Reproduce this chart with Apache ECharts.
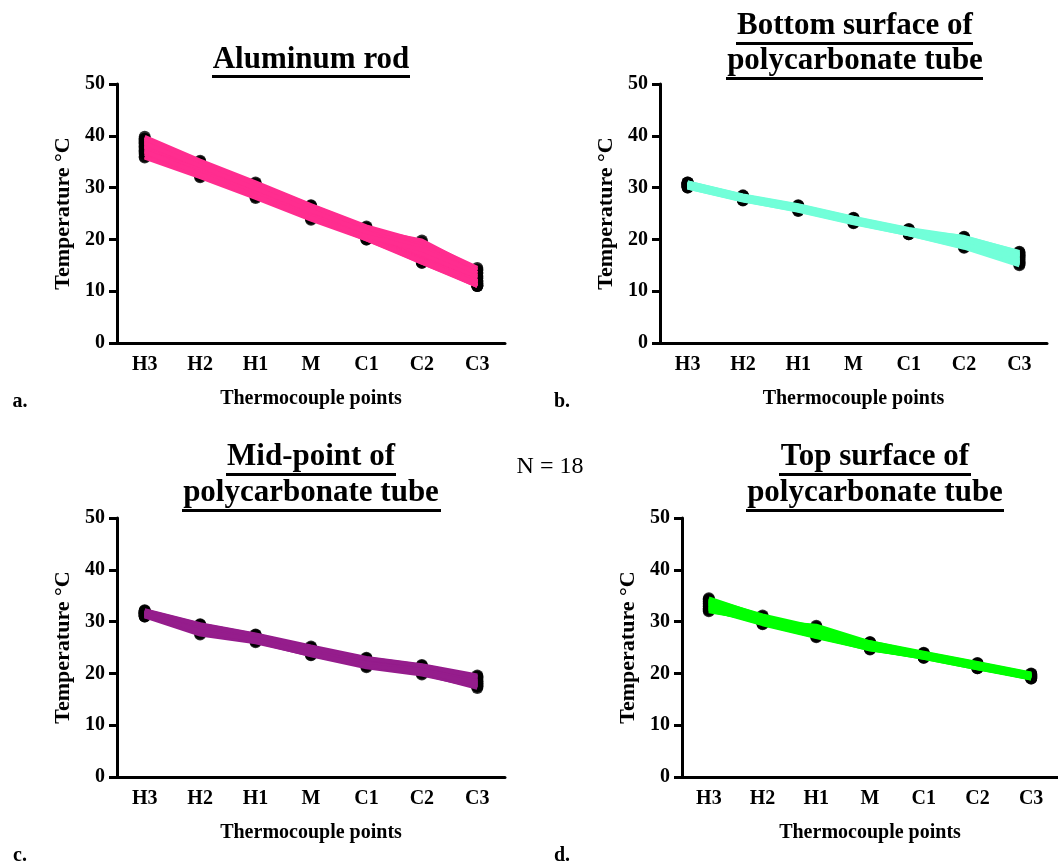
<!DOCTYPE html>
<html>
<head>
<meta charset="utf-8">
<title>Thermocouple temperature profiles</title>
<script src="https://cdn.jsdelivr.net/npm/echarts@6/dist/echarts.min.js"></script>
<style>
  html, body { margin: 0; padding: 0; background: #fff; }
  #chart { width: 1058px; height: 863px; }
</style>
</head>
<body>
<div id="chart"></div>
<script>
// thermocouple positions along the rod / tube
const points = ['H3', 'H2', 'H1', 'M', 'C1', 'C2', 'C3']
const yTicks = [0, 10, 20, 30, 40, 50]

// a. aluminum rod, 18 runs
const aluminum = [
  [39.5, 35.0, 30.8, 26.5, 22.3, 18.0, 13.0],
  [39.2, 34.6, 30.5, 26.2, 22.0, 17.5, 12.5],
  [39.0, 34.3, 30.2, 26.0, 21.7, 17.0, 12.0],
  [38.8, 34.0, 30.0, 25.8, 21.5, 16.8, 11.8],
  [38.5, 33.8, 29.7, 25.5, 21.2, 16.5, 11.5],
  [38.2, 33.5, 29.4, 25.2, 21.0, 16.2, 11.2],
  [38.0, 33.2, 29.2, 25.0, 20.8, 16.0, 11.0],
  [37.8, 33.0, 29.0, 24.8, 20.5, 15.8, 11.0],
  [37.5, 32.8, 28.7, 24.5, 20.3, 15.5, 11.2],
  [37.2, 32.5, 28.5, 24.3, 20.0, 15.5, 11.0],
  [39.8, 35.2, 31.0, 26.6, 22.5, 19.5, 14.5],
  [39.4, 34.8, 30.6, 26.3, 22.2, 19.0, 14.0],
  [36.8, 33.5, 29.5, 25.0, 21.8, 19.8, 14.2],
  [36.5, 33.0, 29.0, 24.5, 21.5, 18.5, 13.5],
  [36.0, 32.2, 28.2, 24.0, 20.2, 16.0, 12.0],
  [35.8, 32.0, 28.0, 23.8, 20.0, 15.8, 11.5],
  [38.6, 34.2, 29.8, 25.6, 21.4, 17.2, 12.8],
  [37.0, 32.6, 28.4, 24.2, 20.6, 18.0, 13.5]
]

// b. bottom surface of polycarbonate tube
const bottomSurface = [
  [31.0, 28.5, 26.6, 24.2, 22.0, 20.4, 17.6],
  [30.9, 28.4, 26.5, 24.1, 21.9, 20.2, 17.3],
  [30.8, 28.3, 26.4, 24.0, 21.8, 20.0, 17.0],
  [30.7, 28.2, 26.3, 23.9, 21.7, 19.8, 16.8],
  [30.6, 28.1, 26.2, 23.8, 21.6, 19.6, 16.5],
  [30.5, 28.0, 26.1, 23.7, 21.5, 19.5, 16.3],
  [30.4, 27.9, 26.0, 23.6, 21.4, 19.3, 16.0],
  [30.3, 27.8, 25.9, 23.5, 21.3, 19.1, 15.8],
  [30.2, 27.7, 25.8, 23.4, 21.2, 18.9, 15.6],
  [30.1, 27.6, 25.7, 23.3, 21.1, 18.7, 15.4],
  [30.0, 27.5, 25.6, 23.2, 21.0, 18.5, 15.2],
  [30.0, 27.6, 25.5, 23.1, 21.0, 18.4, 15.0],
  [31.0, 28.4, 26.3, 23.8, 21.6, 20.5, 17.5],
  [30.8, 28.0, 26.0, 23.5, 21.3, 20.0, 17.2],
  [30.5, 27.8, 25.8, 23.3, 21.1, 19.6, 16.9],
  [30.2, 28.2, 26.2, 23.9, 21.8, 19.2, 15.5],
  [30.6, 27.9, 26.4, 23.6, 21.5, 18.8, 16.1],
  [30.9, 28.3, 25.9, 24.0, 21.2, 19.0, 16.6]
]

// c. mid-point of polycarbonate tube
const midPoint = [
  [32.2, 29.5, 27.5, 25.2, 23.0, 21.6, 19.6],
  [32.0, 29.3, 27.3, 25.0, 22.8, 21.4, 19.4],
  [31.9, 29.2, 27.2, 24.9, 22.7, 21.3, 19.2],
  [31.8, 29.1, 27.1, 24.8, 22.6, 21.2, 19.0],
  [31.7, 29.0, 27.0, 24.7, 22.5, 21.1, 18.8],
  [31.6, 28.9, 26.9, 24.6, 22.4, 21.0, 18.6],
  [31.5, 28.8, 26.8, 24.5, 22.3, 20.9, 18.4],
  [31.4, 28.7, 26.7, 24.4, 22.2, 20.8, 18.2],
  [31.3, 28.6, 26.6, 24.3, 22.1, 20.7, 18.0],
  [31.2, 28.5, 26.5, 24.2, 22.0, 20.6, 17.8],
  [31.1, 28.4, 26.4, 24.1, 21.9, 20.5, 17.6],
  [31.0, 28.3, 26.3, 24.0, 21.8, 20.4, 17.4],
  [31.0, 27.5, 26.0, 23.6, 21.4, 20.0, 17.2],
  [31.2, 27.7, 26.2, 23.5, 21.2, 19.8, 17.5],
  [31.5, 28.0, 26.6, 24.0, 21.6, 20.2, 17.8],
  [31.8, 29.0, 26.9, 24.4, 21.9, 20.6, 18.5],
  [32.1, 29.4, 27.4, 24.9, 22.9, 21.5, 19.3],
  [31.6, 28.2, 26.5, 23.8, 21.5, 20.3, 18.1]
]

// d. top surface of polycarbonate tube
const topSurface = [
  [34.5, 31.0, 28.5, 26.0, 24.0, 22.0, 20.0],
  [34.3, 30.8, 28.2, 25.8, 23.9, 21.9, 19.9],
  [34.0, 30.6, 28.0, 25.6, 23.8, 21.8, 19.8],
  [33.8, 30.4, 27.8, 25.4, 23.7, 21.7, 19.7],
  [33.6, 30.2, 27.6, 25.3, 23.6, 21.6, 19.6],
  [33.4, 30.0, 27.5, 25.2, 23.5, 21.5, 19.5],
  [33.2, 29.9, 27.4, 25.1, 23.4, 21.4, 19.4],
  [33.0, 29.8, 27.3, 25.0, 23.3, 21.3, 19.3],
  [32.8, 29.7, 27.2, 24.9, 23.2, 21.2, 19.2],
  [32.6, 29.6, 27.1, 24.8, 23.1, 21.1, 19.1],
  [32.4, 29.5, 27.0, 24.7, 23.0, 21.0, 19.0],
  [32.2, 30.0, 29.2, 26.0, 23.8, 21.8, 19.6],
  [32.0, 30.3, 29.0, 25.7, 23.6, 21.6, 19.3],
  [34.2, 31.2, 28.8, 25.5, 23.4, 21.5, 19.8],
  [33.5, 30.5, 27.3, 24.6, 23.2, 21.2, 19.0],
  [32.5, 29.8, 28.6, 25.9, 23.7, 21.7, 19.5],
  [33.9, 30.9, 27.7, 24.8, 23.0, 21.0, 19.2],
  [32.9, 30.1, 27.9, 25.4, 23.5, 21.4, 19.4]
]

const FONT = '"Liberation Serif", "Times New Roman", serif'

const panels = [
  { runs: aluminum, color: '#ff2d8f', grid: { left: 117, top: 84, width: 388, height: 259 } },
  { runs: bottomSurface, color: '#72ffd9', grid: { left: 660, top: 84, width: 387, height: 259 } },
  { runs: midPoint, color: '#951d8c', grid: { left: 117, top: 518, width: 388, height: 259 } },
  { runs: topSurface, color: '#00ff00', grid: { left: 682, top: 518, width: 389, height: 259 } }
]

const chart = echarts.init(document.getElementById('chart'))

const grids = []
const xAxes = []
const yAxes = []
const series = []

panels.forEach((p, k) => {
  grids.push(Object.assign({ containLabel: false }, p.grid))
  xAxes.push({
    type: 'category',
    gridIndex: k,
    data: points,
    boundaryGap: true,
    name: 'Thermocouple points',
    nameLocation: 'middle',
    nameGap: 46,
    nameTextStyle: { fontFamily: FONT, fontWeight: 'bold', fontSize: 20, color: '#000' },
    axisLine: { lineStyle: { color: '#000', width: 3 } },
    axisTick: { alignWithLabel: true, length: 8, lineStyle: { color: '#000', width: 3 } },
    axisLabel: { fontFamily: FONT, fontWeight: 'bold', fontSize: 20, color: '#000', margin: 12 },
    splitLine: { show: false }
  })
  yAxes.push({
    type: 'value',
    gridIndex: k,
    min: yTicks[0],
    max: yTicks[yTicks.length - 1],
    interval: 10,
    name: 'Temperature °C',
    nameLocation: 'middle',
    nameGap: 43,
    nameTextStyle: { fontFamily: FONT, fontWeight: 'bold', fontSize: 22, color: '#000' },
    axisLine: { show: true, lineStyle: { color: '#000', width: 3 } },
    axisTick: { show: true, length: 8, lineStyle: { color: '#000', width: 3 } },
    axisLabel: { fontFamily: FONT, fontWeight: 'bold', fontSize: 20, color: '#000', margin: 12 },
    splitLine: { show: false }
  })
  // black markers under the lines
  series.push({
    type: 'scatter',
    xAxisIndex: k,
    yAxisIndex: k,
    symbol: 'circle',
    symbolSize: 12,
    itemStyle: { color: '#000' },
    z: 2,
    data: p.runs.flatMap(run => run.map((v, i) => [i, v]))
  })
  p.runs.forEach((run, j) => {
    series.push({
      type: 'line',
      name: 'run ' + (j + 1),
      xAxisIndex: k,
      yAxisIndex: k,
      showSymbol: false,
      symbol: 'none',
      z: 3,
      lineStyle: { color: p.color, width: 4 },
      data: run
    })
  })
})

// titles, underlines, panel letters
const txt = (text, x, y, size, bold) => ({
  type: 'text',
  x: x,
  y: y,
  style: {
    text: text,
    fontFamily: FONT,
    fontWeight: bold ? 'bold' : 'normal',
    fontSize: size,
    fill: '#000',
    align: 'center',
    verticalAlign: 'middle'
  }
})
const uline = (x1, x2, y) => ({
  type: 'rect',
  shape: { x: x1, y: y, width: x2 - x1, height: 3 },
  style: { fill: '#000' }
})

const graphics = [
  txt('Aluminum rod', 311, 60, 31, true), uline(212, 410, 75),
  txt('Bottom surface of', 855, 26, 31, true), uline(736, 973, 42),
  txt('polycarbonate tube', 855, 61, 31, true), uline(726, 983, 77),
  txt('Mid-point of', 311, 457, 31, true), uline(226, 396, 473),
  txt('polycarbonate tube', 311, 493, 31, true), uline(182, 441, 509),
  txt('Top surface of', 875, 457, 31, true), uline(779, 971, 473),
  txt('polycarbonate tube', 875, 493, 31, true), uline(746, 1004, 509),
  txt('N = 18', 550, 467, 24, false),
  txt('a.', 20, 402, 20, true),
  txt('b.', 562, 402, 20, true),
  txt('c.', 20, 856, 20, true),
  txt('d.', 562, 856, 20, true)
]

chart.setOption({
  animation: false,
  backgroundColor: '#fff',
  grid: grids,
  xAxis: xAxes,
  yAxis: yAxes,
  series: series,
  graphic: graphics
})
</script>
</body>
</html>
